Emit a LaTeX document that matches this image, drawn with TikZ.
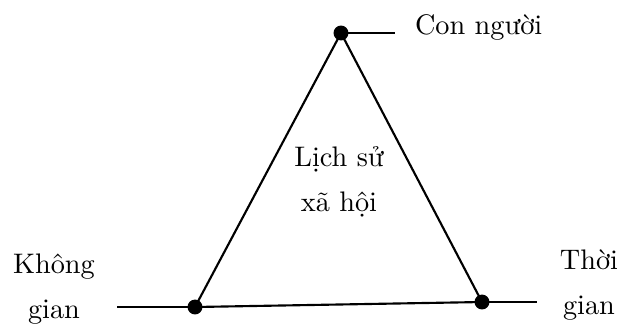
\documentclass[tikz,border=0pt]{standalone}
\usepackage{tikz}
\usetikzlibrary{positioning}

\tikzset{
    vdot/.style={circle, fill=black, inner sep=0pt, minimum size=5.6pt},
    lbl/.style={font=\fontsize{10.6}{16.6}\selectfont, align=center, inner sep=0pt}
}

\begin{document}
\begin{tikzpicture}[x=0.375pt, y=-0.375pt, line width=0.8pt]

    % Frame
    \useasboundingbox (0,0) rectangle (617,324);

    % Vertices
    \node[vdot] (nguoi) at (341,33) {};
    \node[vdot] (khonggian) at (195,307) {};
    \node[vdot] (thoigian) at (482,302) {};

    % Free ends of the short lines
    \coordinate (nguoiend) at (395,33);
    \coordinate (leftend) at (117,307);
    \coordinate (rightend) at (537,302);

    % Triangle
    \draw (nguoi.center) -- (khonggian.center) -- (thoigian.center) -- cycle;

    % Short lines
    \draw (nguoi.center) -- (nguoiend);
    \draw (leftend) -- (khonggian.center);
    \draw (thoigian.center) -- (rightend);

    % Labels (base = last line)
    \node[lbl, anchor=base west] (lblnguoi) at (414,34) {Con người};
    \node[lbl, anchor=base] (lblls) at (339,211) {Lịch sử\\xã hội};
    \node[lbl, anchor=base] (lblkg) at (54,318) {Không\\gian};
    \node[lbl, anchor=base] (lbltg) at (589,314) {Thời\\gian};

\end{tikzpicture}
\end{document}
